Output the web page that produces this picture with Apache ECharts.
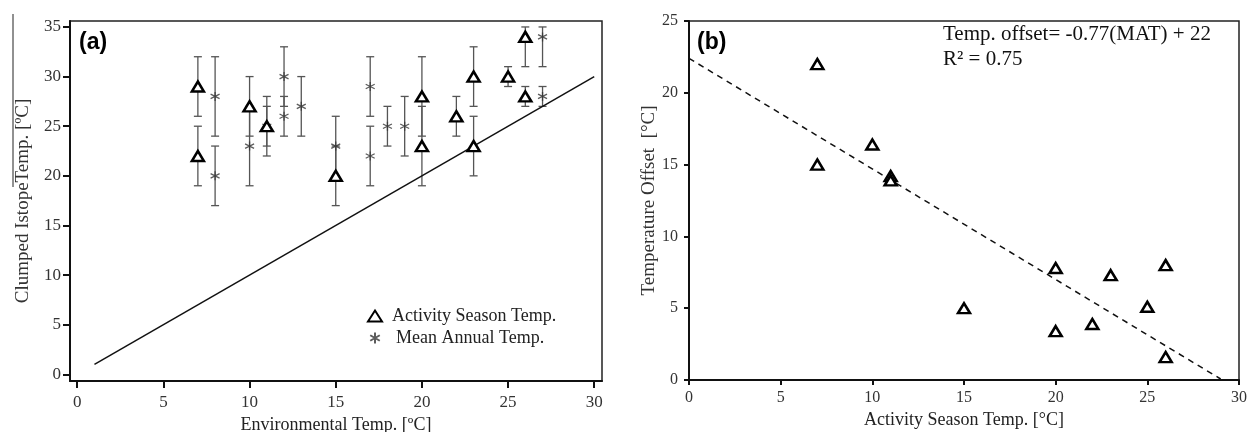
<!DOCTYPE html>
<html>
<head>
<meta charset="utf-8">
<script src="https://cdn.jsdelivr.net/npm/echarts@6/dist/echarts.min.js"></script>
<style>
  html, body { margin: 0; padding: 0; background: #fff; }
  #chart { width: 1247px; height: 432px; }
</style>
</head>
<body>
<div id="chart"></div>
<script>
// panel (a): clumped isotope temp vs environmental temp
var activityX    = [7, 7, 10, 11, 15, 20, 20, 22, 23, 23, 25, 26, 26];
var activityY    = [29, 22, 27, 25, 20, 28, 23, 26, 30, 23, 30, 34, 28];
var activityLow  = [26, 19, 24, 22, 17, 24, 19, 24, 27, 20, 29, 31, 27];
var activityHigh = [32, 25, 30, 28, 23, 32, 27, 28, 33, 26, 31, 35, 29];

var meanX    = [8, 8, 10, 11, 12, 12, 13, 15, 17, 17, 18, 19, 27, 27];
var meanY    = [28, 20, 23, 25, 30, 26, 27, 23, 29, 22, 25, 25, 34, 28];
var meanLow  = [24, 17, 19, 23, 27, 24, 24, 20, 26, 19, 23, 22, 31, 27];
var meanHigh = [32, 23, 27, 27, 33, 28, 30, 26, 32, 25, 27, 28, 35, 29];

var oneToOne = [[1, 1], [30, 30]];
var ticksAX = [0, 5, 10, 15, 20, 25, 30];
var ticksAY = [0, 5, 10, 15, 20, 25, 30, 35];

// panel (b): temperature offset vs activity season temp
var offsetX = [7, 7, 10, 11, 11, 15, 20, 20, 22, 23, 25, 26, 26];
var offsetY = [22, 15, 16.4, 14.2, 13.9, 5.0, 7.8, 3.4, 3.9, 7.3, 5.1, 8.0, 1.6];
var fitLine = [[0, 22.4], [29, 0.07]];

var serif = 'Liberation Serif';
var asterisk = 'path://M0,-5L0,5M-4.33,-2.5L4.33,2.5M-4.33,2.5L4.33,-2.5';

function zip() {
  var cols = Array.prototype.slice.call(arguments);
  return cols[0].map(function (v, i) {
    return cols.map(function (c) { return c[i]; });
  });
}

function errorBars(params, api) {
  var x = api.value(0);
  var top = api.coord([x, api.value(2)]);
  var bot = api.coord([x, api.value(1)]);
  var w = 4;
  var st = { stroke: '#555', lineWidth: 1.3 };
  return {
    type: 'group',
    children: [
      { type: 'line', shape: { x1: top[0], y1: top[1], x2: bot[0], y2: bot[1] }, style: st },
      { type: 'line', shape: { x1: top[0] - w, y1: top[1], x2: top[0] + w, y2: top[1] }, style: st },
      { type: 'line', shape: { x1: bot[0] - w, y1: bot[1], x2: bot[0] + w, y2: bot[1] }, style: st }
    ]
  };
}

var axisLine = { show: true, onZero: false, lineStyle: { color: '#111', width: 2 } };

var chart = echarts.init(document.getElementById('chart'));
chart.setOption({
  backgroundColor: '#fff',
  animation: false,
  grid: [
    { left: 70, top: 21, width: 532, height: 360, outerBoundsMode: 'none', containLabel: false,
      show: true, borderColor: '#222', borderWidth: 1.5 },
    { left: 689, top: 21, width: 550, height: 359, outerBoundsMode: 'none', containLabel: false,
      show: true, borderColor: '#222', borderWidth: 1.5 }
  ],
  legend: {
    orient: 'vertical',
    left: 362,
    top: 302,
    itemWidth: 14,
    itemHeight: 11,
    itemGap: 4,
    textStyle: { fontFamily: serif, fontSize: 18, color: '#222' },
    data: [
      { name: 'Activity Season Temp.', textStyle: { padding: [0, 0, 0, 5] } },
      { name: 'Mean Annual Temp.', textStyle: { padding: [0, 0, 0, 9] } }
    ]
  },
  xAxis: [
    {
      gridIndex: 0, type: 'value', min: -0.42, max: 30.45,
      name: 'Environmental Temp. [ºC]', nameLocation: 'middle', nameGap: 32,
      nameTextStyle: { fontFamily: serif, fontSize: 18, color: '#222' },
      axisLine: axisLine,
      axisTick: { show: true, length: 7, lineStyle: { color: '#111', width: 2 }, customValues: ticksAX },
      axisLabel: { fontFamily: serif, fontSize: 17, color: '#333', margin: 13, customValues: ticksAX },
      splitLine: { show: false }
    },
    {
      gridIndex: 1, type: 'value', min: 0, max: 30, interval: 5,
      name: 'Activity Season Temp. [°C]', nameLocation: 'middle', nameGap: 30,
      nameTextStyle: { fontFamily: serif, fontSize: 18, color: '#222' },
      axisLine: axisLine,
      axisTick: { show: true, length: 5, lineStyle: { color: '#111', width: 2 } },
      axisLabel: { fontFamily: serif, fontSize: 16, color: '#333', margin: 10 },
      splitLine: { show: false }
    }
  ],
  yAxis: [
    {
      gridIndex: 0, type: 'value', min: -0.67, max: 35.6,
      name: 'Clumped IstopeTemp. [ºC]', nameLocation: 'middle', nameGap: 37,
      nameTextStyle: { fontFamily: serif, fontSize: 19, color: '#333' },
      axisLine: axisLine,
      axisTick: { show: true, length: 7, lineStyle: { color: '#111', width: 2 }, customValues: ticksAY },
      axisLabel: { fontFamily: serif, fontSize: 17, color: '#333', margin: 9, customValues: ticksAY },
      splitLine: { show: false }
    },
    {
      gridIndex: 1, type: 'value', min: 0, max: 25, interval: 5,
      name: 'Temperature Offset  [°C]', nameLocation: 'middle', nameGap: 27,
      nameTextStyle: { fontFamily: serif, fontSize: 19, color: '#333' },
      axisLine: axisLine,
      axisTick: { show: true, length: 5, lineStyle: { color: '#111', width: 2 } },
      axisLabel: { fontFamily: serif, fontSize: 16, color: '#333', margin: 11 },
      splitLine: { show: false }
    }
  ],
  graphic: [
    { type: 'text', left: 79, top: 31, style: { text: '(a)', font: 'bold 23px "Liberation Sans"', fill: '#000' } },
    { type: 'text', left: 697, top: 31, style: { text: '(b)', font: 'bold 23px "Liberation Sans"', fill: '#000' } },
    { type: 'text', left: 943, top: 24, style: { text: 'Temp. offset= -0.77(MAT) + 22', font: '21px "Liberation Serif"', fill: '#111' } },
    { type: 'text', left: 943, top: 49, style: { text: 'R² = 0.75', font: '21px "Liberation Serif"', fill: '#111' } },
    { type: 'line', shape: { x1: 13, y1: 14, x2: 13, y2: 187 }, style: { stroke: '#222', lineWidth: 1 } }
  ],
  series: [
    {
      type: 'line', xAxisIndex: 0, yAxisIndex: 0, data: oneToOne,
      symbol: 'none', lineStyle: { color: '#111', width: 1.5 }
    },
    {
      type: 'custom', xAxisIndex: 0, yAxisIndex: 0, renderItem: errorBars,
      encode: { x: 0, y: [1, 2] }, data: zip(meanX, meanLow, meanHigh), z: 2
    },
    {
      type: 'custom', xAxisIndex: 0, yAxisIndex: 0, renderItem: errorBars,
      encode: { x: 0, y: [1, 2] }, data: zip(activityX, activityLow, activityHigh), z: 2
    },
    {
      name: 'Mean Annual Temp.', type: 'scatter', xAxisIndex: 0, yAxisIndex: 0,
      data: zip(meanX, meanY), symbol: asterisk, symbolSize: 9, z: 3,
      itemStyle: { color: 'none', borderColor: '#333', borderWidth: 1.3 }
    },
    {
      name: 'Activity Season Temp.', type: 'scatter', xAxisIndex: 0, yAxisIndex: 0,
      data: zip(activityX, activityY), symbol: 'triangle', symbolSize: [12, 10], z: 4,
      itemStyle: { color: '#fff', borderColor: '#000', borderWidth: 2.5, opacity: 1 }
    },
    {
      type: 'line', xAxisIndex: 1, yAxisIndex: 1, data: fitLine,
      symbol: 'none', lineStyle: { color: '#111', width: 1.5, type: [6, 5] }
    },
    {
      type: 'scatter', xAxisIndex: 1, yAxisIndex: 1,
      data: zip(offsetX, offsetY), symbol: 'triangle', symbolSize: [12, 10], z: 4,
      itemStyle: { color: '#fff', borderColor: '#000', borderWidth: 2.5, opacity: 1 }
    }
  ]
});
</script>
</body>
</html>
